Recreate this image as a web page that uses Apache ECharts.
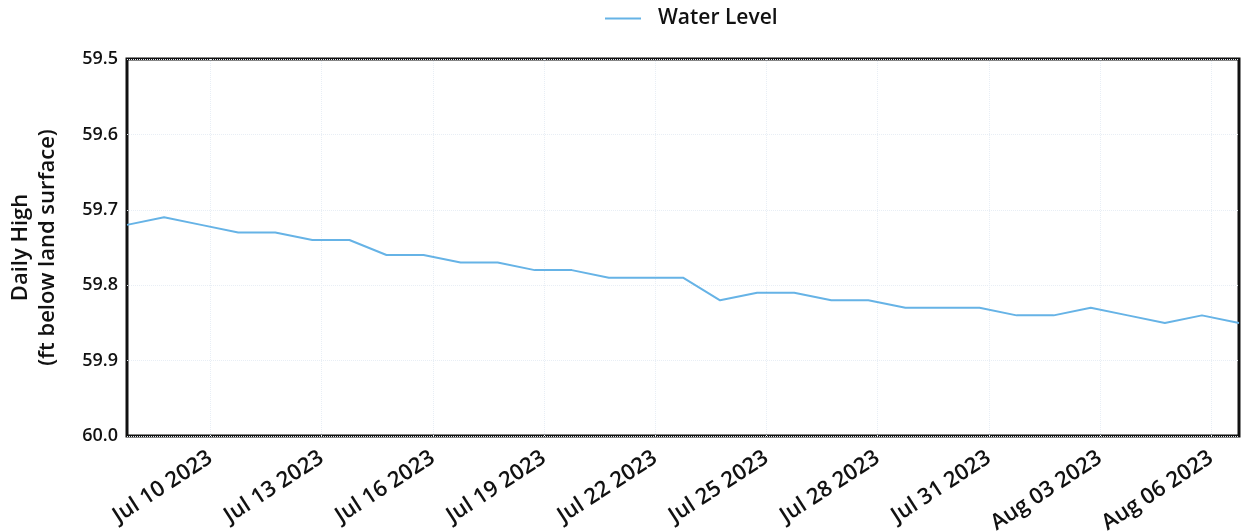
<!DOCTYPE html>
<html>
<head>
    <meta charset="utf-8">
    <title>Water Level</title>
    <script src="https://cdn.jsdelivr.net/npm/echarts@6/dist/echarts.min.js"></script>
    <style>
        html, body { margin: 0; padding: 0; background: #fff; }
        #main { width: 1241px; height: 531px; }
    </style>
</head>
<body>
    <div id="main"></div>
    <script>
        // daily readings (ft below land surface)
        var dates = ['2023-07-07 18:00', '2023-07-08 18:00', '2023-07-09 18:00', '2023-07-10 18:00', '2023-07-11 18:00',
            '2023-07-12 18:00', '2023-07-13 18:00', '2023-07-14 18:00', '2023-07-15 18:00', '2023-07-16 18:00',
            '2023-07-17 18:00', '2023-07-18 18:00', '2023-07-19 18:00', '2023-07-20 18:00', '2023-07-21 18:00',
            '2023-07-22 18:00', '2023-07-23 18:00', '2023-07-24 18:00', '2023-07-25 18:00', '2023-07-26 18:00',
            '2023-07-27 18:00', '2023-07-28 18:00', '2023-07-29 18:00', '2023-07-30 18:00', '2023-07-31 18:00',
            '2023-08-01 18:00', '2023-08-02 18:00', '2023-08-03 18:00', '2023-08-04 18:00', '2023-08-05 18:00',
            '2023-08-06 18:00'];
        var waterLevel = [59.72, 59.71, 59.72, 59.73, 59.73, 59.74, 59.74, 59.76, 59.76, 59.77,
            59.77, 59.78, 59.78, 59.79, 59.79, 59.79, 59.82, 59.81, 59.81, 59.82,
            59.82, 59.83, 59.83, 59.83, 59.84, 59.84, 59.83, 59.84, 59.85, 59.84,
            59.85];
        var tickDates = ['2023-07-10', '2023-07-13', '2023-07-16', '2023-07-19', '2023-07-22',
            '2023-07-25', '2023-07-28', '2023-07-31', '2023-08-03', '2023-08-06'];
        var tickLabels = ['Jul 10 2023', 'Jul 13 2023', 'Jul 16 2023', 'Jul 19 2023', 'Jul 22 2023',
            'Jul 25 2023', 'Jul 28 2023', 'Jul 31 2023', 'Aug 03 2023', 'Aug 06 2023'];

        var FONT = 'Open Sans';
        function toTime(d) { return +echarts.time.parse(d); }
        var times = dates.map(toTime);
        var tickTimes = tickDates.map(toTime);
        var seriesData = times.map(function (t, i) { return [t, waterLevel[i]]; });

        var myChart = echarts.init(document.getElementById('main'));
        var option = {
            animation: false,
            legend: {
                left: 600,
                top: 3,
                icon: 'rect',
                itemWidth: 36,
                itemHeight: 2,
                textStyle: {
                    fontFamily: FONT, fontSize: 21, fontWeight: 600, color: '#111',
                    padding: [0, 0, 0, 12]
                },
                data: ['Water Level']
            },
            grid: {
                left: 127,
                right: 2,
                top: 59,
                bottom: 95,
                containLabel: false,
                outerBoundsMode: 'none',
                show: true,
                borderColor: '#111',
                borderWidth: 3
            },
            xAxis: {
                type: 'value',
                min: times[0],
                max: times[times.length - 1],
                axisLine: { show: false },
                axisTick: { show: false, customValues: tickTimes },
                splitLine: {
                    show: true,
                    lineStyle: { color: '#e8eef5', type: 'dotted', width: 1 }
                },
                axisLabel: {
                    customValues: tickTimes,
                    rotate: 33,
                    margin: 20,
                    fontFamily: FONT,
                    fontSize: 22,
                    fontWeight: 600,
                    color: '#111',
                    formatter: function (v) {
                        var i = tickTimes.indexOf(+v);
                        return i >= 0 ? tickLabels[i] : '';
                    }
                }
            },
            yAxis: {
                type: 'value',
                inverse: true,
                min: 59.5,
                max: 60.0,
                interval: 0.1,
                name: 'Daily High\n(ft below land surface)',
                nameLocation: 'middle',
                nameGap: 66,
                nameTextStyle: {
                    fontFamily: FONT, fontSize: 22, fontWeight: 600, color: '#111', lineHeight: 27
                },
                axisLine: { show: false },
                axisTick: { show: false },
                splitLine: {
                    show: true,
                    lineStyle: { color: '#e8eef5', type: 'dotted', width: 1 }
                },
                axisLabel: {
                    margin: 9,
                    fontFamily: FONT,
                    fontSize: 18,
                    fontWeight: 600,
                    color: '#111',
                    formatter: function (v) { return v.toFixed(1); }
                }
            },
            series: [
                {
                    name: 'Water Level',
                    type: 'line',
                    symbol: 'none',
                    color: '#66b3e6',
                    lineStyle: { width: 2 },
                    data: seriesData
                }
            ]
        };
        myChart.setOption(option);
    </script>
</body>
</html>
